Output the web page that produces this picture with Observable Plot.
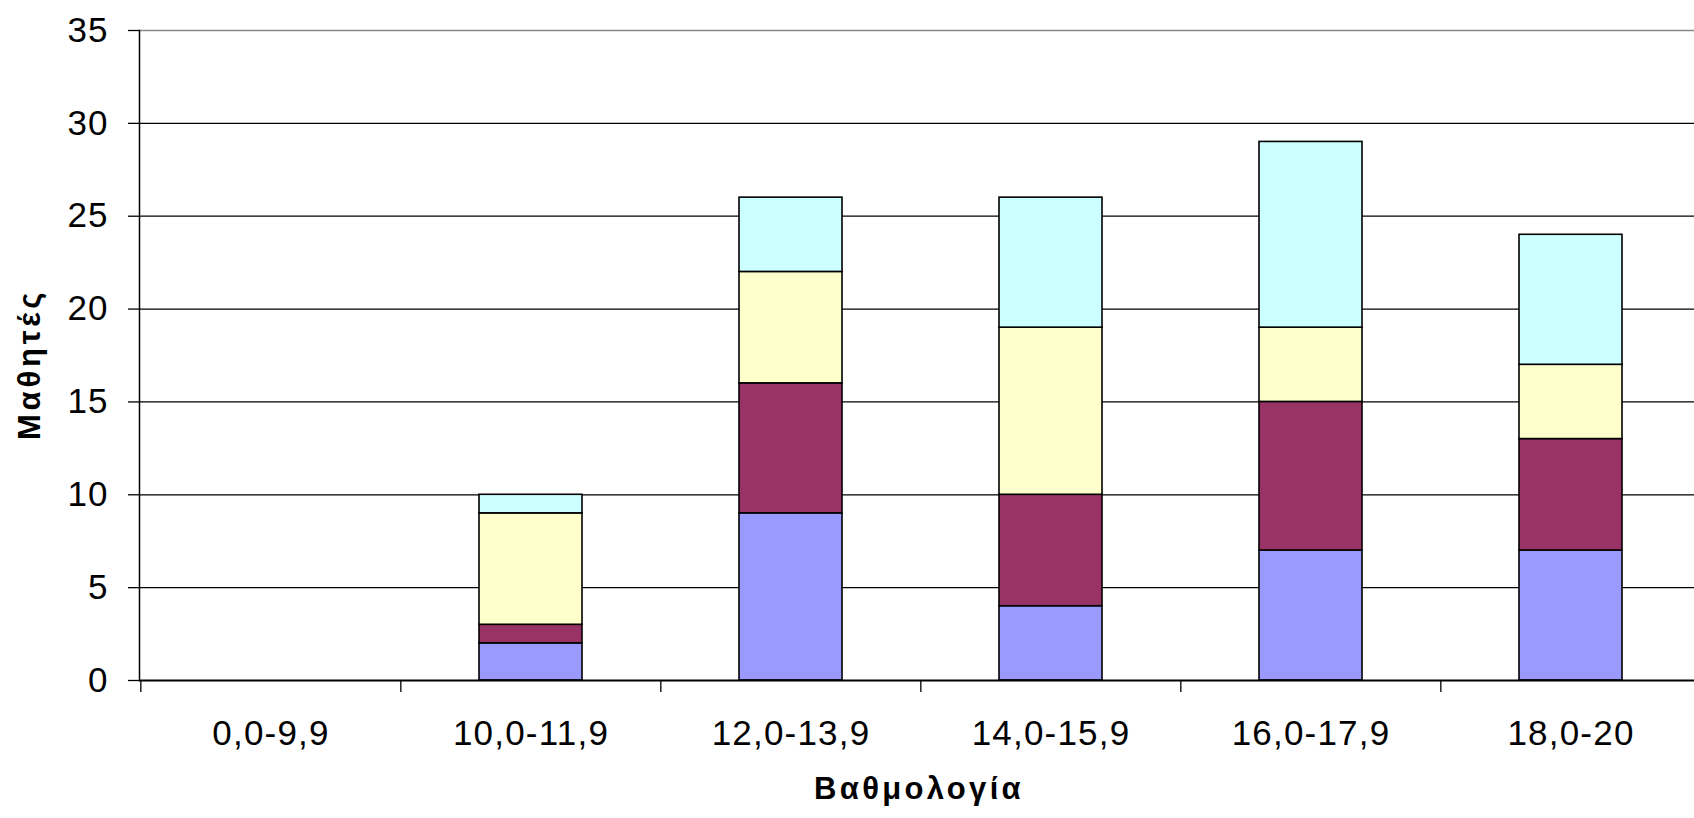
<!DOCTYPE html>
<html>
<head>
<meta charset="utf-8">
<script src="https://cdn.jsdelivr.net/npm/d3@7"></script>
<script src="https://cdn.jsdelivr.net/npm/@observablehq/plot@0.6"></script>
<style>
  html, body { margin: 0; padding: 0; background: #fff; overflow: hidden; }
  g[aria-description="x-title"] text { letter-spacing: 3.3px; }
  g[aria-description="y-title"] text { letter-spacing: 3.8px; }
  g[aria-label="x-axis tick label"] text { letter-spacing: 1.2px; }
  g[aria-label="y-axis tick label"] text { letter-spacing: 1px; }
</style>
</head>
<body>
<div id="chart"></div>
<script>
// ---- data ----
const categories = ["0,0-9,9", "10,0-11,9", "12,0-13,9", "14,0-15,9", "16,0-17,9", "18,0-20"];
const seriesNames = ["Σειρά1", "Σειρά2", "Σειρά3", "Σειρά4"];
const series1 = [0, 2, 9, 4, 7, 7];
const series2 = [0, 1, 7, 6, 8, 6];
const series3 = [0, 6, 6, 9, 4, 4];
const series4 = [0, 1, 4, 7, 10, 7];
const seriesColors = ["#9999FF", "#993366", "#FFFFCC", "#CCFFFF"];
const yTicks = [0, 5, 10, 15, 20, 25, 30, 35];
const xTitle = "Βαθμολογία";
const yTitle = "Μαθητές";

// ---- table ----
const seriesValues = [series1, series2, series3, series4];
const rows = [];
seriesNames.forEach((s, si) => {
  categories.forEach((c, ci) => {
    const v = seriesValues[si][ci];
    if (v > 0) rows.push({category: c, series: s, value: v});
  });
});

const W = 1694, H = 818;
const left = 139, right = 1701;
const step = (right - left) / categories.length;

const chart = Plot.plot({
  width: W,
  height: H,
  marginLeft: left,
  marginRight: 0,
  marginTop: 30,
  marginBottom: 138,
  style: {fontFamily: "'Liberation Sans', Arial, sans-serif", background: "white", color: "black"},
  x: {domain: categories, range: [left, right], paddingInner: 0.604, paddingOuter: 0.302},
  y: {domain: [0, 35]},
  color: {domain: seriesNames, range: seriesColors},
  marks: [
    Plot.ruleY(yTicks.slice(1, -1), {stroke: "#000", strokeWidth: 1.3}),
    Plot.ruleY(yTicks.slice(-1), {stroke: "#888", strokeWidth: 1.3}),
    Plot.barY(rows, {x: "category", y: "value", z: "series", fill: "series", stroke: "#000", strokeWidth: 1.6}),
    Plot.axisY({ticks: yTicks, tickSize: 11, tickPadding: 20, fontSize: 35, label: null, stroke: "#000", strokeWidth: 1.3}),
    Plot.axisX({tickSize: 0, tickPadding: 40, fontSize: 35, label: null}),
    Plot.axisX({tickSize: 12, tickFormat: () => "", dx: -step / 2, label: null, stroke: "#000", strokeWidth: 1.3}),
    Plot.frame({anchor: "left", stroke: "#000", strokeWidth: 1.5}),
    Plot.ruleY([0], {stroke: "#000", strokeWidth: 2}),
    Plot.text([xTitle], {frameAnchor: "bottom", dy: 118, dx: 2, fontSize: 31, fontWeight: "bold", textAnchor: "middle", ariaDescription: "x-title"}),
    Plot.text([yTitle], {frameAnchor: "left", dx: -109, dy: 9, rotate: -90, fontSize: 31, fontWeight: "bold", textAnchor: "middle", ariaDescription: "y-title"})
  ]
});
document.getElementById("chart").appendChild(chart);
</script>
</body>
</html>
